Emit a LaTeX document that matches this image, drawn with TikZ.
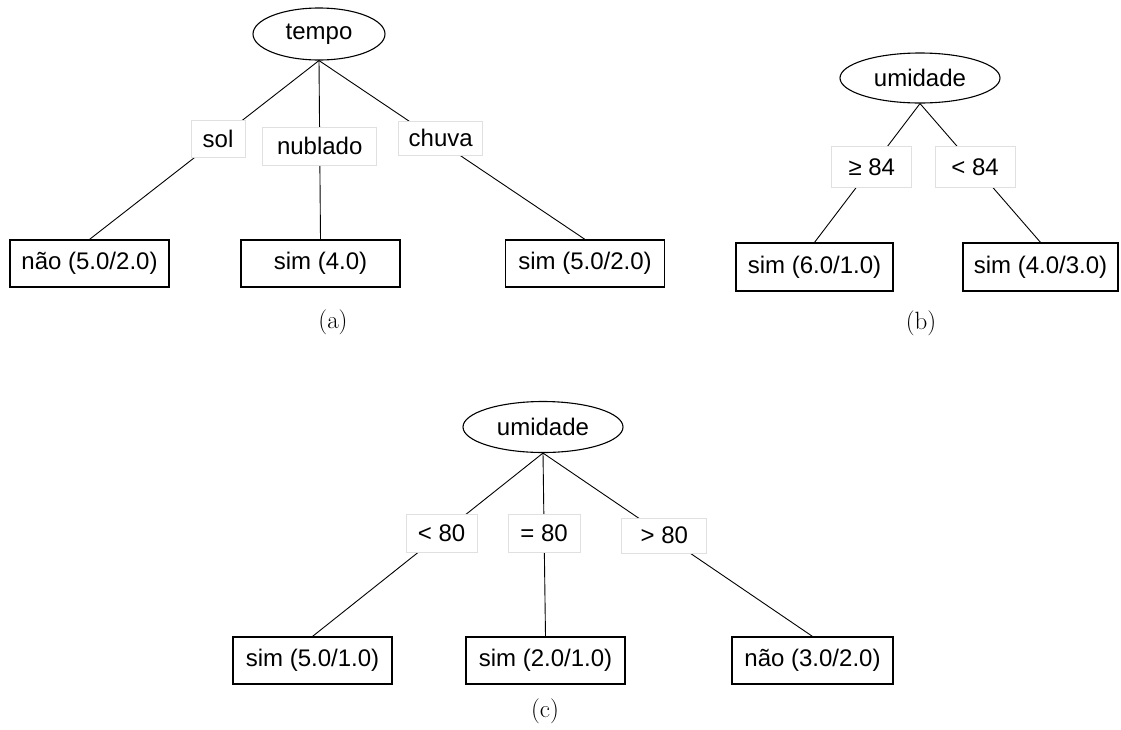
\documentclass[tikz,border=0pt]{standalone}
\usepackage{fontspec}
\newfontfamily\arialf{Liberation Sans}
\usetikzlibrary{shapes.geometric}
\tikzset{
  txt/.style={font=\arialf\fontsize{24}{28}\selectfont},
  rootnode/.style={txt, ellipse, draw, line width=1.1pt, inner sep=0pt},
  leafnode/.style={txt, rectangle, draw, line width=1.2pt, inner sep=0pt, minimum width=159pt, minimum height=47pt},
  lblnode/.style={txt, rectangle, draw=black!12, line width=0.8pt, fill=white, inner sep=0pt},
  edgeline/.style={line width=0.9pt},
  captext/.style={font=\fontsize{25}{30}\selectfont, inner sep=0pt}
}
\begin{document}
\begin{tikzpicture}[x=1pt,y=-1pt]
\useasboundingbox (0,0) rectangle (1121,729);
% (a)
\node[rootnode, minimum width=132pt, minimum height=52pt] (ra) at (319,34) {tempo};
\node[leafnode] (a1) at (89.5,263.5) {não (5.0/2.0)};
\node[leafnode] (a2) at (320.5,263.5) {sim (4.0)};
\node[leafnode] (a3) at (585,263.5) {sim (5.0/2.0)};
\draw[edgeline] (ra.south) -- node[lblnode, pos=0.44, minimum width=54pt, minimum height=37pt] (la1) {sol} (a1.north);
\draw[edgeline] (ra.south) -- node[lblnode, pos=0.48, minimum width=114pt, minimum height=38pt] (la2) {nublado} (a2.north);
\draw[edgeline] (ra.south) -- node[lblnode, pos=0.435, xshift=6pt, minimum width=84pt, minimum height=34pt] (la3) {chuva} (a3.north);
\node[captext] (capa) at (333,322) {(a)};
% (b)
\node[rootnode, minimum width=160pt, minimum height=50pt] (rb) at (920,78) {umidade};
\node[leafnode, minimum width=157pt, minimum height=48pt] (b1) at (814.5,267) {sim (6.0/1.0)};
\node[leafnode, minimum width=155pt, minimum height=48pt] (b2) at (1040.5,267) {sim (4.0/3.0)};
\draw[edgeline] (rb.south) -- node[lblnode, pos=0.457, minimum width=80pt, minimum height=41pt] (lb1) {≥ 84} (b1.north);
\draw[edgeline] (rb.south) -- node[lblnode, pos=0.457, minimum width=80pt, minimum height=41pt] (lb2) {< 84} (b2.north);
\node[captext] (capb) at (921,323) {(b)};
% (c)
\node[rootnode, minimum width=160pt, minimum height=51pt] (rc) at (543,427) {umidade};
\node[leafnode] (c1) at (312.5,660.5) {sim (5.0/1.0)};
\node[leafnode] (c2) at (545.5,660.5) {sim (2.0/1.0)};
\node[leafnode, minimum width=161pt] (c3) at (812.5,660.5) {não (3.0/2.0)};
\draw[edgeline] (rc.south) -- node[lblnode, pos=0.44, minimum width=71pt, minimum height=38pt] (lc1) {< 80} (c1.north);
\draw[edgeline] (rc.south) -- node[lblnode, pos=0.44, minimum width=72pt, minimum height=38pt] (lc2) {= 80} (c2.north);
\draw[edgeline] (rc.south) -- node[lblnode, pos=0.45, minimum width=85pt, minimum height=35pt] (lc3) {> 80} (c3.north);
\node[captext] (capc) at (545,711) {(c)};
\end{tikzpicture}
\end{document}
